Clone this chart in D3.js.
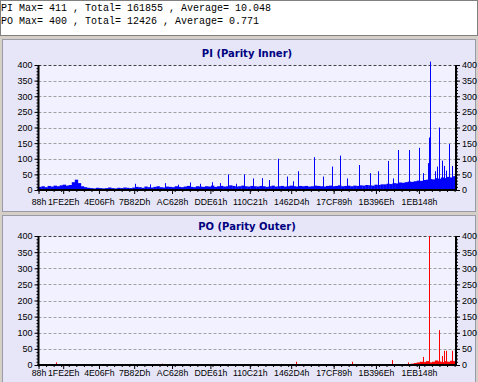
<!DOCTYPE html>
<html><head><meta charset="utf-8">
<script src="https://cdn.jsdelivr.net/npm/d3@7"></script>
<style>
html,body{margin:0;padding:0;background:#D4D0C8;overflow:hidden;}
svg{display:block;}
</style></head>
<body>
<svg id="c" width="478" height="382"></svg>
<script>
// ---------- DATA ----------
const summaryLines = [
  "PI Max= 411 , Total= 161855 , Average= 10.048",
  "PO Max= 400 , Total= 12426 , Average= 0.771"
];
const titles = ["PI (Parity Inner)", "PO (Parity Outer)"];
const xTickValues = [0x88, 0x1FE2E, 0x4E06F, 0x7B82D, 0xAC628, 0xDDE61, 0x110C21, 0x1462D4, 0x17CF89, 0x1B396E, 0x1EB148];
const yTickValues = [0, 50, 100, 150, 200, 250, 300, 350, 400];
const lbaMax = 2207500;
const binSize = 16000;

// PI: background level per LBA bin (bin i starts at i*binSize)
const piBase = [
  10,12,9,13,11,14,12,
  15,17,14,16,
  25,33,22,
  12,9,7,
  6,5,7,6,5,6,8,6,5,7,6,8,7,6,
  8,10,9,7,11,9,8,10,12,9,8,11,10,9,12,10,9,11,13,10,9,12,11,
  10,12,11,14,10,12,13,11,12,15,13,11,12,14,12,11,13,
  12,11,13,12,10,12,14,11,12,13,11,12,14,12,11,13,
  12,13,11,12,14,13,12,11,13,14,12,13,15,12,13,14,12,
  14,13,15,14,16,15,14,17,16,18,
  18,20,19,22,21,24,23,
  25,27,26,28,30,29,32,
  33,35,34,38,36,40,38,42,40,44
];
// PI: isolated spikes (LBA, value)
const piSpikeLba = [508224,587634,667044,735866,799394,852334,915862,958214,1000600,1042918,1085270,1132916,1180562,1217620,1265266,1312912,1344676,1371146,1455850,1503496,1551142,1593494,1630552,1694080,1752314,1794666,1847606,1874076,1900546,1958780,2011720,2032896,2057778,2064660,2068366,2096424,2105424,2119188,2131894,2144070,2154658,2172128,2184834,2197010];
const piSpikeVal = [20,18,22,17,24,20,25,22,50,20,50,37,38,32,100,43,28,60,105,43,75,110,37,80,54,60,93,37,128,128,135,54,86,168,411,60,75,200,94,77,62,147,77,43];

// PO: background level per LBA bin
const poBase = [
  0,0,0,0,0,0,0,0,0,0,0,0,0,0,0,0,0,0,0,0,0,0,0,0,0,0,0,0,0,0,
  0,0,0,0,0,0,0,0,0,0,0,0,0,0,0,0,0,0,0,0,0,0,0,0,0,0,0,0,0,0,
  0,0,0,0,0,0,0,0,0,0,0,0,0,0,0,0,0,0,0,0,0,0,0,0,0,0,0,0,0,0,
  0,0,0,0,0,0,0,0,0,0,0,0,0,0,0,0,0,0,0,0,0,0,0,0,0,0,0,0,0,0,
  0,2,3,4,6,8,10,9,12,8,10,14,11,9,12,10,13,12
];
const poSpikeLba = [90000,545282,651162,746454,1360558,1556436,1655434,1867194,1953486,2031308,2066248,2119188,2131894,2144070,2152000,2184834,2199657];
const poSpikeVal = [8,3,4,3,10,3,10,15,8,25,400,108,28,44,44,44,44];

// ---------- DRAW ----------
const svg = d3.select("#c");
const W = 478;

// top summary box
svg.append("rect").attr("x",0.5).attr("y",0.5).attr("width",W-1).attr("height",35)
  .attr("fill","#FFFFFF").attr("stroke","#808080");
svg.selectAll("text.sum").data(summaryLines).enter().append("text")
  .attr("class","sum").attr("x",1).attr("y",(d,i)=>10.5+i*13)
  .attr("font-family","'Liberation Mono', monospace").attr("font-size","10px")
  .attr("fill","#000").attr("xml:space","preserve").text(d=>d);

const panels = [
  {top:39, h:172, yTop:65, yBot:190, title:titles[0], base:piBase, sl:piSpikeLba, sv:piSpikeVal, color:"#0000FF", lblY:205, titleY:57},
  {top:215, h:170, yTop:236, yBot:365, title:titles[1], base:poBase, sl:poSpikeLba, sv:poSpikeVal, color:"#FF0000", lblY:376, titleY:230}
];

const x = d3.scaleLinear().domain([0, lbaMax]).range([38.5, 456]);
const hexFmt = v => v.toString(16).toUpperCase() + "h";

panels.forEach(p => {
  const g = svg.append("g");
  g.append("rect").attr("x",2.5).attr("y",p.top+0.5).attr("width",W-5).attr("height",p.h)
    .attr("fill","#E6E6F8").attr("stroke","#9A9AA8");
  g.append("text").attr("x",247).attr("y",p.titleY).attr("text-anchor","middle")
    .attr("font-family","'DejaVu Sans', sans-serif").attr("font-weight","bold").attr("font-size","10px")
    .attr("fill","#000080").text(p.title);

  const y = d3.scaleLinear().domain([0,400]).range([p.yBot, p.yTop]);

  // plot background
  g.append("rect").attr("x",x.range()[0]).attr("y",p.yTop).attr("width",x.range()[1]-x.range()[0])
    .attr("height",p.yBot-p.yTop).attr("fill","#F1F1FF");

  // gridlines
  g.selectAll("line.grid").data(yTickValues.filter(v=>v>0)).enter().append("line")
    .attr("x1",x.range()[0]).attr("x2",x.range()[1])
    .attr("y1",d=>Math.round(y(d))+0.5).attr("y2",d=>Math.round(y(d))+0.5)
    .attr("stroke",d=>d===400?"#404040":"#A0A0A0").attr("stroke-dasharray","3,2").attr("stroke-width",1);

  // base bars
  g.selectAll("rect.base").data(p.base).enter().append("rect")
    .attr("x",(d,i)=>x(i*binSize)).attr("width",x(binSize)-x(0)+0.3)
    .attr("y",d=>y(d)).attr("height",d=>y(0)-y(d)).attr("fill",p.color);

  // spikes
  g.selectAll("line.sp").data(p.sl).enter().append("line")
    .attr("x1",d=>Math.round(x(d))+0.5).attr("x2",d=>Math.round(x(d))+0.5)
    .attr("y1",y(0)).attr("y2",(d,i)=>y(p.sv[i]))
    .attr("stroke",p.color).attr("stroke-width",1);

  // y axes
  const left = d3.axisLeft(y).tickValues(yTickValues).tickSize(4).tickPadding(2);
  const right = d3.axisRight(y).tickValues(yTickValues).tickSize(4).tickPadding(2);
  const leftMinor = d3.axisLeft(y).tickValues(d3.range(0,401,10)).tickSize(2).tickFormat("");
  const rightMinor = d3.axisRight(y).tickValues(d3.range(0,401,10)).tickSize(2).tickFormat("");
  [[left, x.range()[0]],[leftMinor, x.range()[0]],[right, x.range()[1]],[rightMinor, x.range()[1]]].forEach(([ax,px])=>{
    const a = g.append("g").attr("transform",`translate(${px},0)`).call(ax);
    a.select(".domain").remove();
    a.selectAll("text").attr("font-family","'Liberation Sans', Arial, sans-serif").attr("font-size","9px").attr("fill","#000");
    a.selectAll("line").attr("stroke","#000");
  });

  // x axis
  const xa = d3.axisBottom(x).tickValues(xTickValues).tickSize(4).tickFormat(hexFmt);
  const xm = d3.axisBottom(x).tickValues(d3.range(0, lbaMax, 40000)).tickSize(2).tickFormat("");
  const xg = g.append("g").attr("transform",`translate(0,${p.yBot})`).call(xa);
  xg.select(".domain").remove();
  xg.selectAll("line").attr("stroke","#000");
  xg.selectAll("text").attr("font-family","'Liberation Sans', Arial, sans-serif").attr("font-size","8.7px")
    .attr("fill","#000").attr("y",p.lblY-p.yBot).attr("dy",null);
  const xmg = g.append("g").attr("transform",`translate(0,${p.yBot})`).call(xm);
  xmg.select(".domain").remove();
  xmg.selectAll("line").attr("stroke","#000");

  // heavy frame lines
  g.append("line").attr("x1",x.range()[0]).attr("x2",x.range()[0]).attr("y1",p.yTop).attr("y2",p.yBot+1)
    .attr("stroke","#000").attr("stroke-width",2);
  g.append("line").attr("x1",x.range()[1]).attr("x2",x.range()[1]).attr("y1",p.yTop).attr("y2",p.yBot+1)
    .attr("stroke","#000").attr("stroke-width",2);
  g.append("line").attr("x1",x.range()[0]-1).attr("x2",x.range()[1]+1).attr("y1",p.yBot).attr("y2",p.yBot)
    .attr("stroke","#000").attr("stroke-width",2);
});
</script>
</body></html>
